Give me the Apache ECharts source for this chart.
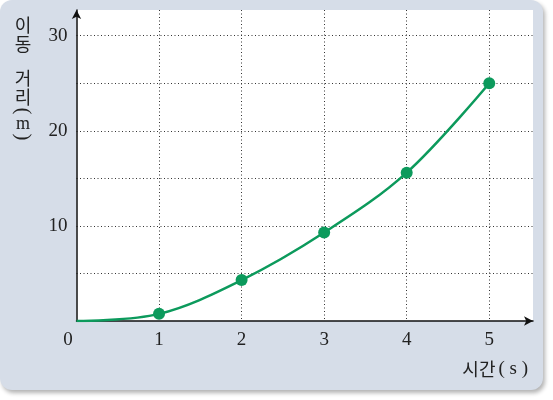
<!DOCTYPE html>
<html>
<head>
<meta charset="utf-8">
<script src="https://cdn.jsdelivr.net/npm/echarts@6/dist/echarts.min.js"></script>
<style>
html,body{margin:0;padding:0;background:#fff;}
#chart{width:553px;height:400px;}
</style>
</head>
<body>
<div id="chart"></div>
<script>
// Data
const times = [0, 1, 2, 3, 4, 5];
const distances = [0, 0.75, 4.3, 9.3, 15.6, 25];
const xTickLabels = ['0', '1', '2', '3', '4', '5'];
const yTickLabels = ['10', '20', '30'];
const xNameMain = '시간';
const xNameUnit = '( s )';
const yNameChars = ['이', '동', '거', '리', '(', 'm', ')'];

const green = '#0c9a5c';
const serif = '"Liberation Serif", "DejaVu Serif", serif';
const kfont = '"Noto Sans CJK KR", sans-serif';

const chart = echarts.init(document.getElementById('chart'), null, {renderer: 'canvas'});

const seriesData = times.map((t, i) => ({
  value: [t, distances[i]],
  symbol: i === 0 ? 'none' : 'circle'
}));

// vertical y-axis name pieces (parentheses turned for vertical writing)
const yNameY = [25, 44, 78, 97, 111, 124, 137];
const yNameEls = yNameChars.map((c, i) => {
  const isParen = c === '(' || c === ')';
  const isLatin = c === 'm' || isParen;
  return {
    type: 'text',
    x: 23, y: yNameY[i],
    rotation: isParen ? -Math.PI / 2 : 0,
    z: 10,
    style: {
      text: c,
      fontSize: isParen ? 21 : 18,
      fontFamily: isLatin ? serif : kfont,
      fill: '#222',
      align: 'center',
      verticalAlign: 'middle'
    }
  };
});

const option = {
  animation: false,
  backgroundColor: '#fff',
  graphic: [
    {
      type: 'rect', z: -10,
      shape: {x: 0, y: 0, width: 543, height: 390, r: 12},
      style: {fill: '#d6dde8', shadowBlur: 4, shadowOffsetX: 2, shadowOffsetY: 3, shadowColor: 'rgba(0,0,0,0.3)'}
    },
    {
      type: 'text', z: 10,
      x: 528, y: 369,
      style: {
        text: '{k|' + xNameMain + '}{p|' + xNameUnit + '}',
        align: 'right', verticalAlign: 'middle',
        rich: {
          k: {fontFamily: kfont, fontSize: 18, fill: '#222', padding: [0, 3, 0, 0]},
          p: {fontFamily: serif, fontSize: 19, fill: '#222'}
        }
      }
    },
    ...yNameEls
  ],
  grid: {
    left: 76.5, top: 10, right: 20, bottom: 79,
    show: true, backgroundColor: '#fff', borderWidth: 0
  },
  xAxis: {
    type: 'value', min: 0, max: 5.53, interval: 1,
    axisLine: {show: true, symbol: ['none', 'arrow'], symbolSize: [7, 9], lineStyle: {color: '#111', width: 1.5}},
    axisTick: {show: false},
    axisLabel: {
      showMaxLabel: false, margin: 10,
      fontFamily: serif, fontSize: 19, color: '#222',
      formatter: v => {
        const idx = times.indexOf(v);
        if (idx < 0) return '';
        return v === 0 ? '{z|' + xTickLabels[idx] + '}' : xTickLabels[idx];
      },
      rich: {z: {fontFamily: serif, fontSize: 19, color: '#222', padding: [0, 17, 0, 0]}}
    },
    splitLine: {show: true, showMinLine: false, showMaxLine: false, lineStyle: {color: '#333', width: 1, type: [1, 2.5]}}
  },
  yAxis: {
    type: 'value', min: 0, max: 32.7, interval: 5,
    axisLine: {show: true, symbol: ['none', 'arrow'], symbolSize: [7, 9], lineStyle: {color: '#111', width: 1.5}},
    axisTick: {show: false},
    axisLabel: {
      showMaxLabel: false, margin: 9,
      fontFamily: serif, fontSize: 19, color: '#222',
      formatter: v => yTickLabels.indexOf(String(v)) >= 0 ? String(v) : ''
    },
    splitLine: {show: true, showMinLine: false, showMaxLine: false, lineStyle: {color: '#333', width: 1, type: [1, 2.5]}}
  },
  series: [{
    type: 'line',
    data: seriesData,
    smooth: 0.35,
    symbolSize: 12,
    lineStyle: {color: green, width: 2.5},
    itemStyle: {color: green},
    z: 5
  }]
};
chart.setOption(option);
</script>
</body>
</html>
